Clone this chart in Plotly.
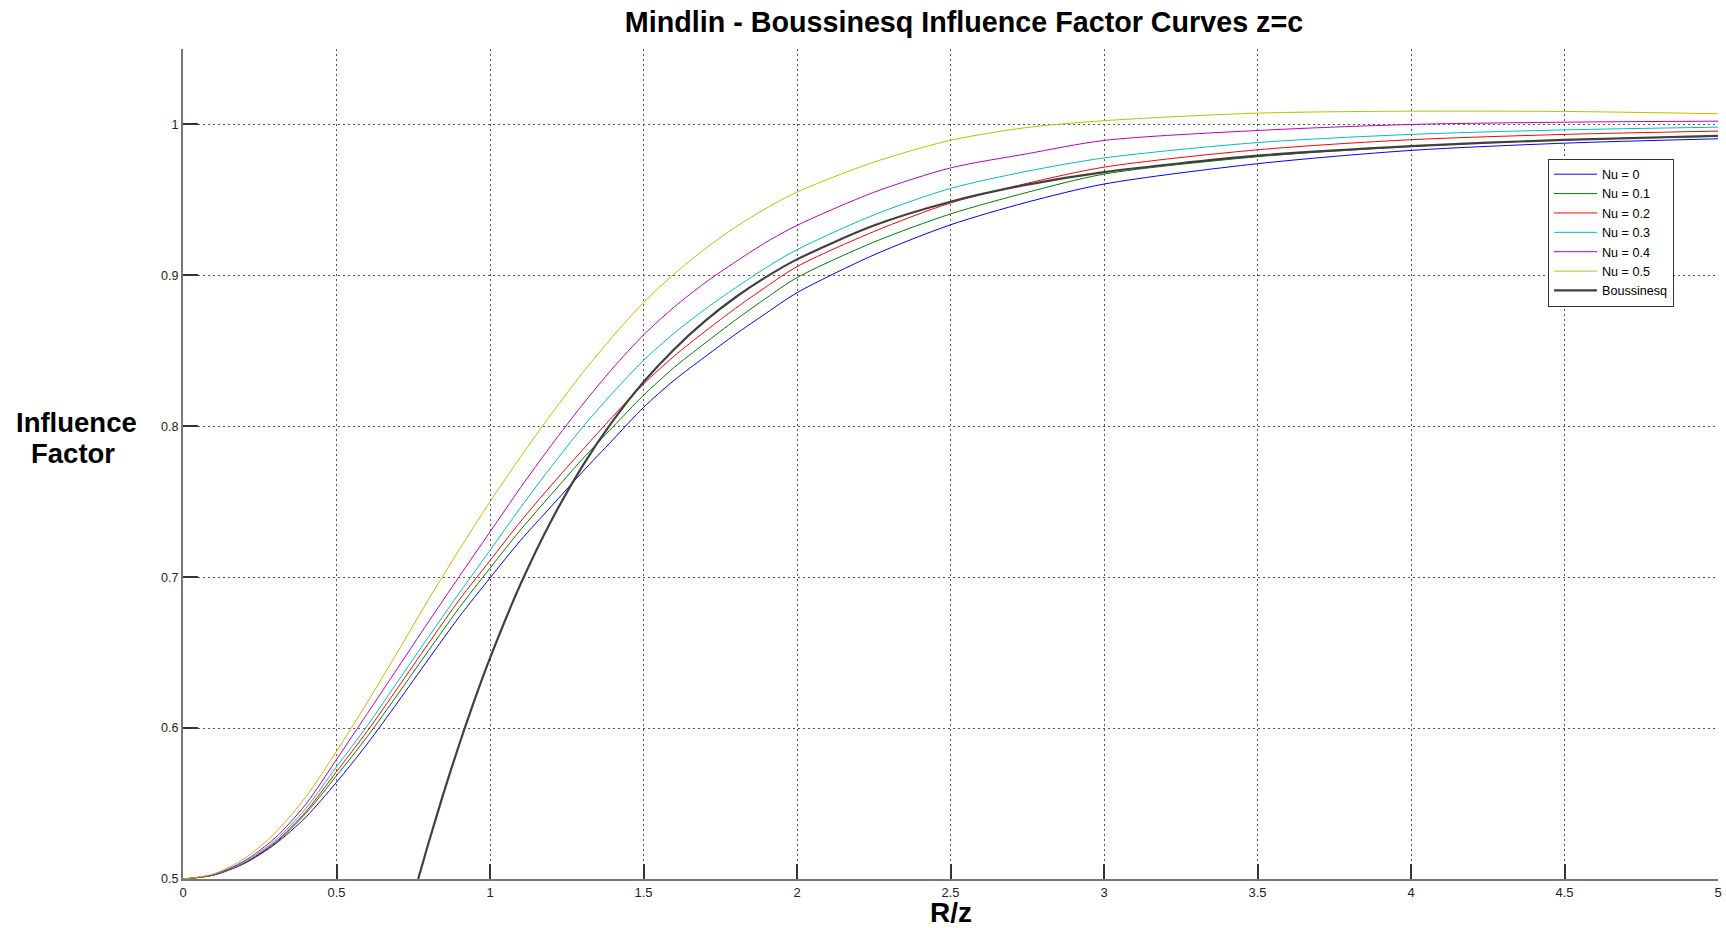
import plotly.graph_objects as go

TITLE = "Mindlin - Boussinesq Influence Factor Curves z=c"
X_LABEL = "R/z"
Y_LABEL_LINES = ["Influence", "Factor"]

# R/z sample positions
rz = [0, 0.1, 0.2, 0.3, 0.4, 0.5, 0.6, 0.7, 0.8, 0.9, 1.0, 1.1, 1.2, 1.3, 1.4,
      1.5, 1.6, 1.7, 1.8, 1.9, 2.0, 2.25, 2.5, 2.75, 3.0, 3.5, 4.0, 4.5, 5.0]

nu_00 = [0.5, 0.5026, 0.5103, 0.5231, 0.5410, 0.5641, 0.5895, 0.6173, 0.6458, 0.6738,
         0.6995, 0.7245, 0.7470, 0.7695, 0.7910, 0.8125, 0.8305, 0.8460, 0.8610, 0.8750,
         0.8885, 0.9135, 0.9335, 0.9485, 0.9605, 0.9740, 0.9828, 0.9876, 0.9905]
nu_01 = [0.5, 0.5026, 0.5105, 0.5237, 0.5435, 0.5684, 0.5943, 0.6225, 0.6514, 0.6798,
         0.7060, 0.7315, 0.7550, 0.7780, 0.7995, 0.8205, 0.8390, 0.8550, 0.8705, 0.8850,
         0.8985, 0.9220, 0.9407, 0.9550, 0.9671, 0.9786, 0.9854, 0.9898, 0.9920]
nu_02 = [0.5, 0.5027, 0.5108, 0.5243, 0.5446, 0.5711, 0.5979, 0.6268, 0.6562, 0.6850,
         0.7110, 0.7370, 0.7610, 0.7840, 0.8065, 0.8280, 0.8465, 0.8628, 0.8782, 0.8925,
         0.9058, 0.9290, 0.9480, 0.9610, 0.9717, 0.9832, 0.9899, 0.9934, 0.9956]
nu_03 = [0.5, 0.5028, 0.5112, 0.5255, 0.5468, 0.5743, 0.6015, 0.6310, 0.6605, 0.6895,
         0.7178, 0.7462, 0.7733, 0.7990, 0.8222, 0.8436, 0.8617, 0.8775, 0.8918, 0.9052,
         0.9170, 0.9400, 0.9576, 0.9690, 0.9778, 0.9880, 0.9934, 0.9964, 0.9982]
nu_04 = [0.5, 0.5030, 0.5120, 0.5272, 0.5495, 0.5792, 0.6095, 0.6400, 0.6705, 0.7005,
         0.7300, 0.7595, 0.7875, 0.8140, 0.8385, 0.8605, 0.8790, 0.8950, 0.9090, 0.9220,
         0.9331, 0.9550, 0.9712, 0.9806, 0.9894, 0.9960, 1.0000, 1.0015, 1.0022]
nu_05 = [0.5, 0.5034, 0.5136, 0.5306, 0.5544, 0.5845, 0.6170, 0.6508, 0.6853, 0.7183,
         0.7500, 0.7799, 0.8082, 0.8350, 0.8595, 0.8820, 0.9010, 0.9175, 0.9320, 0.9445,
         0.9552, 0.9750, 0.9895, 0.9980, 1.0025, 1.0075, 1.0088, 1.0086, 1.0071]

rz_bous = [0.766, 0.8, 0.85, 0.9, 0.95, 1.0, 1.1, 1.2, 1.3, 1.4, 1.5, 1.6, 1.7, 1.8,
           1.9, 2.0, 2.25, 2.5, 2.75, 3.0, 3.5, 4.0, 4.5, 5.0]
boussinesq = [0.5, 0.524, 0.5577, 0.5893, 0.6189, 0.6464, 0.6956, 0.7376, 0.7733, 0.8036,
              0.8293, 0.8511, 0.8697, 0.8855, 0.8990, 0.9106, 0.9330, 0.9488, 0.9601,
              0.9684, 0.9793, 0.9857, 0.9898, 0.9925]

series_names = ["Nu = 0", "Nu = 0.1", "Nu = 0.2", "Nu = 0.3", "Nu = 0.4", "Nu = 0.5"]
series_values = [nu_00, nu_01, nu_02, nu_03, nu_04, nu_05]
series_colors = ["#0000FF", "#008000", "#FF0000", "#00BFBF", "#BF00BF", "#BFBF00"]
bous_name = "Boussinesq"
bous_color = "#404040"

x_tickvals = [0, 0.5, 1, 1.5, 2, 2.5, 3, 3.5, 4, 4.5, 5]
x_ticktext = ["0", "0.5", "1", "1.5", "2", "2.5", "3", "3.5", "4", "4.5", "5"]
y_tickvals = [0.5, 0.6, 0.7, 0.8, 0.9, 1.0]
y_ticktext = ["0.5", "0.6", "0.7", "0.8", "0.9", "1"]

FONT = "Liberation Sans, Arial, Helvetica, sans-serif"

fig = go.Figure()
for name, vals, col in zip(series_names, series_values, series_colors):
    fig.add_trace(go.Scatter(x=rz, y=vals, name=name, mode="lines",
                             line=dict(color=col, width=1, shape="spline", smoothing=0.8)))
fig.add_trace(go.Scatter(x=rz_bous, y=boussinesq, name=bous_name, mode="lines",
                         line=dict(color=bous_color, width=2.2, shape="spline", smoothing=0.8)))

W, H = 1726, 928
L, R, T, B = 183, 8, 49, 49
pw, ph = W - L - R, H - T - B

def px_x(p):
    return (p - L) / pw

def px_y(p):
    return (H - B - p) / ph

axis_common = dict(
    ticks="inside", ticklen=15, tickwidth=1.5, tickcolor="#333333",
    showline=True, linecolor="#777777", linewidth=2,
    showgrid=True, gridcolor="#555555", gridwidth=1, griddash="2px,3px",
    zeroline=False, mirror=False,
)

fig.update_layout(
    width=W, height=H,
    margin=dict(l=L, r=R, t=T, b=B, autoexpand=False),
    paper_bgcolor="white", plot_bgcolor="white",
    font=dict(family=FONT, color="#000000"),
    title=dict(text=TITLE, x=964 / W, xanchor="center", xref="container",
               y=1 - 21.5 / H, yanchor="middle", yref="container",
               font=dict(size=28.7, weight="bold", family=FONT, color="#000000")),
    xaxis=dict(range=[0, 5], tickvals=x_tickvals, ticktext=x_ticktext,
               tickfont=dict(size=13, color="#222222"), **axis_common),
    yaxis=dict(range=[0.5, 1.05], tickvals=y_tickvals, ticktext=y_ticktext,
               tickfont=dict(size=12.5, color="#222222"), **axis_common),
    legend=dict(x=px_x(1548), y=px_y(158.5), xanchor="left", yanchor="top",
                bordercolor="#333333", borderwidth=1, bgcolor="white",
                font=dict(size=12.6, family=FONT, color="#000000"),
                itemwidth=43, tracegroupgap=0),
    showlegend=True,
)

fig.add_annotation(text=Y_LABEL_LINES[0], xref="paper", yref="paper",
                   x=px_x(76.7), y=px_y(422.5), xanchor="center", yanchor="middle",
                   showarrow=False, font=dict(size=27.5, weight="bold", family=FONT))
fig.add_annotation(text=Y_LABEL_LINES[1], xref="paper", yref="paper",
                   x=px_x(73.3), y=px_y(453.5), xanchor="center", yanchor="middle",
                   showarrow=False, font=dict(size=27.5, weight="bold", family=FONT))
fig.add_annotation(text=X_LABEL, xref="paper", yref="paper",
                   x=px_x(951), y=px_y(912), xanchor="center", yanchor="middle",
                   showarrow=False, font=dict(size=28, weight="bold", family=FONT))

fig.write_html("out.html")
